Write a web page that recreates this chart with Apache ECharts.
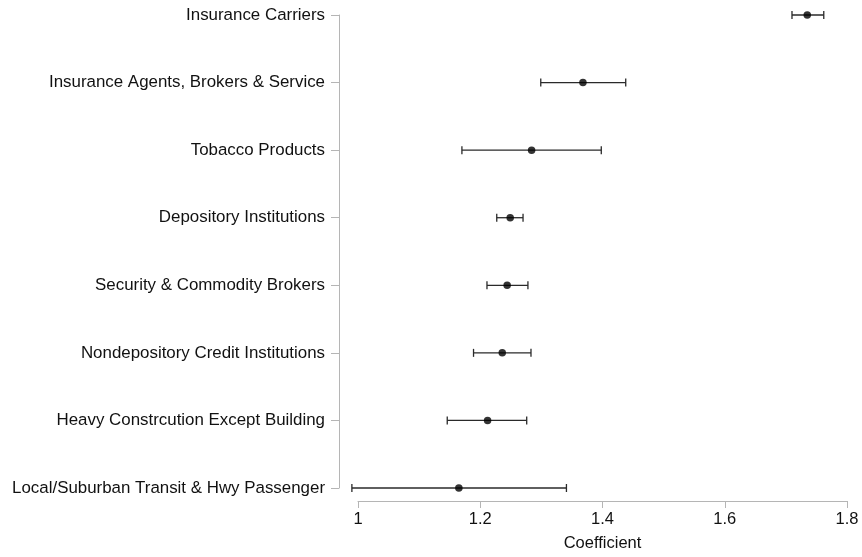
<!DOCTYPE html>
<html>
<head>
<meta charset="utf-8">
<script src="https://cdn.jsdelivr.net/npm/echarts@6/dist/echarts.min.js"></script>
<style>
  html, body { margin: 0; padding: 0; background: #fff; }
  #chart { width: 862px; height: 557px; }
</style>
</head>
<body>
<div id="chart"></div>
<script>
// Industry coefficients with confidence intervals, top to bottom
const industries = [
  'Insurance Carriers',
  'Insurance Agents, Brokers & Service',
  'Tobacco Products',
  'Depository Institutions',
  'Security & Commodity Brokers',
  'Nondepository Credit Institutions',
  'Heavy Constrcution Except Building',
  'Local/Suburban Transit & Hwy Passenger'
];
const coefficient = [1.735, 1.368, 1.284, 1.249, 1.244, 1.236, 1.212, 1.165];
const lowerBound  = [1.710, 1.299, 1.170, 1.227, 1.211, 1.189, 1.146, 0.990];
const upperBound  = [1.762, 1.438, 1.398, 1.270, 1.278, 1.283, 1.276, 1.341];
const xTicks = [1, 1.2, 1.4, 1.6, 1.8];

const FONT = '"Liberation Sans", Arial, Helvetica, sans-serif';
const AXIS_GREY = '#b5b5b5';
const TEXT = '#111111';

const intervalData = industries.map((name, i) => [name, lowerBound[i], upperBound[i]]);
const pointData = industries.map((name, i) => [coefficient[i], name]);

const chart = echarts.init(document.getElementById('chart'), null, { renderer: 'canvas' });

chart.setOption({
  animation: false,
  backgroundColor: '#ffffff',
  grid: { left: 358, right: 15, top: 15, bottom: 64, containLabel: false },
  xAxis: {
    type: 'value',
    min: xTicks[0],
    max: xTicks[xTicks.length - 1],
    interval: 0.2,
    offset: 13,
    name: 'Coefficient',
    nameLocation: 'middle',
    nameGap: 34,
    nameTextStyle: { color: TEXT, fontFamily: FONT, fontSize: 16.5 },
    axisLine: { show: true, lineStyle: { color: AXIS_GREY, width: 1 } },
    axisTick: { show: true, length: 7, lineStyle: { color: AXIS_GREY } },
    axisLabel: {
      color: TEXT, fontFamily: FONT, fontSize: 16.5, margin: 10,
      formatter: v => String(Math.round(v * 10) / 10)
    },
    splitLine: { show: false }
  },
  yAxis: {
    type: 'category',
    data: industries,
    inverse: true,
    boundaryGap: false,
    offset: 19,
    axisLine: { show: true, lineStyle: { color: AXIS_GREY, width: 1 } },
    axisTick: { show: true, length: 8, alignWithLabel: true, lineStyle: { color: AXIS_GREY } },
    axisLabel: { color: TEXT, fontFamily: FONT, fontSize: 16.9, margin: 14 },
    splitLine: { show: false }
  },
  series: [
    {
      type: 'custom',
      clip: false,
      data: intervalData,
      encode: { y: 0, x: [1, 2] },
      renderItem: function (params, api) {
        const cat = api.value(0);
        const lo = api.coord([api.value(1), cat]);
        const hi = api.coord([api.value(2), cat]);
        const cap = 4;
        const style = { stroke: '#2a2a2a', lineWidth: 1.3 };
        return {
          type: 'group',
          children: [
            { type: 'line', shape: { x1: lo[0], y1: lo[1], x2: hi[0], y2: hi[1] }, style },
            { type: 'line', shape: { x1: lo[0], y1: lo[1] - cap, x2: lo[0], y2: lo[1] + cap }, style },
            { type: 'line', shape: { x1: hi[0], y1: hi[1] - cap, x2: hi[0], y2: hi[1] + cap }, style }
          ]
        };
      },
      z: 2
    },
    {
      type: 'scatter',
      data: pointData,
      symbol: 'circle',
      symbolSize: 7.5,
      itemStyle: { color: '#000000' },
      clip: false,
      z: 3
    }
  ]
});
</script>
</body>
</html>
